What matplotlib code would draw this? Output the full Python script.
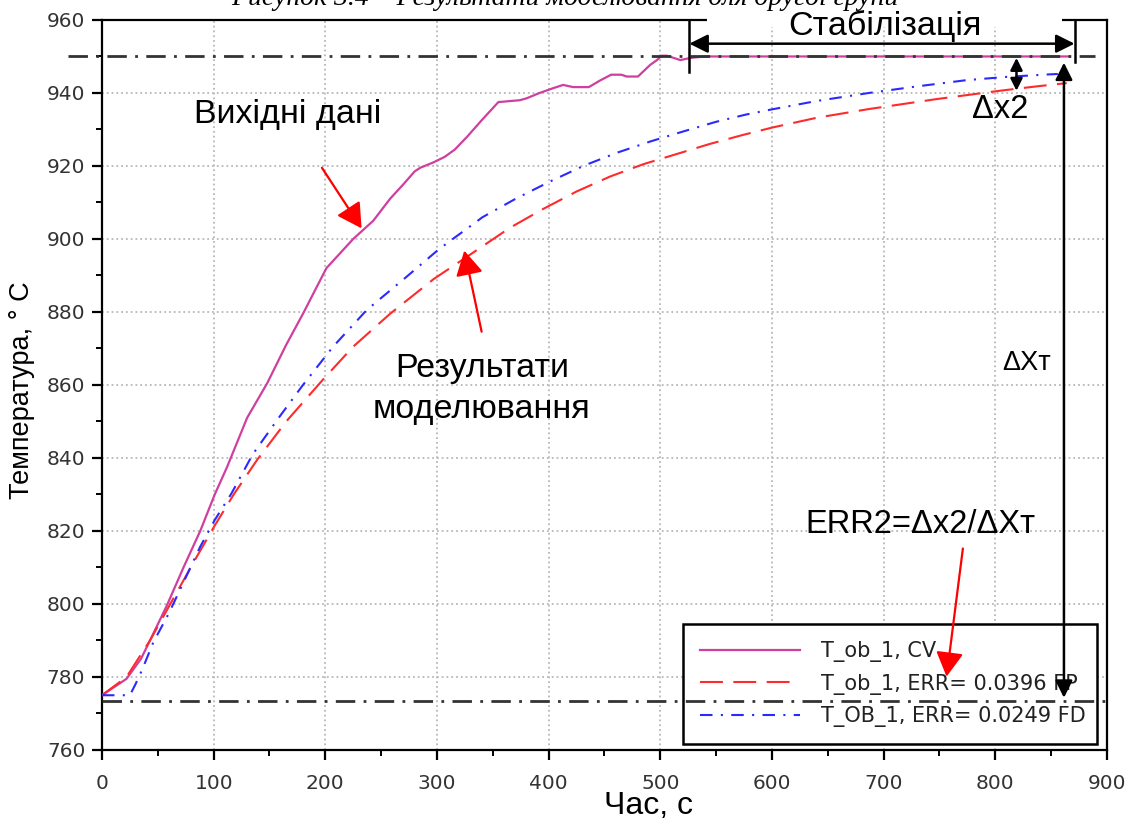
import numpy as np
import matplotlib
matplotlib.use("Agg")
import matplotlib.pyplot as plt
from matplotlib.ticker import MultipleLocator
from matplotlib.patches import Rectangle

plt.rcParams['font.family'] = ['Liberation Sans', 'DejaVu Sans']

# Experimental data (CV)
t_cv = [0, 22, 35, 43, 58, 73, 88, 101, 112, 130, 148, 165, 180, 201, 225, 243,
        258, 270, 280, 285, 297, 307, 316, 327, 340, 355, 374, 380, 392, 404, 413,
        422, 436, 446, 456, 465, 470, 480, 491, 497, 501, 506, 518, 527, 540, 600,
        700, 800, 866]
T_cv = [775, 779.5, 785, 790, 799.5, 810, 820, 830, 837.5, 851, 860.5, 871, 879.5,
        892, 900, 905, 911, 915, 918.5, 919.5, 921, 922.5, 924.5, 928, 932.5, 937.5,
        938, 938.5, 940, 941.3, 942.2, 941.6, 941.6, 943.4, 945, 945, 944.5, 944.5,
        947.7, 949, 950.2, 950.2, 949, 949.6, 950, 950, 950, 950, 950]

# Model, ERR = 0.0396 FP
t_fp = [0, 22, 43, 63, 85, 101, 118, 139, 165, 198, 225, 258, 297, 336, 365, 395,
        425, 455, 485, 515, 544, 574, 600, 640, 687, 747, 804, 837, 864]
T_fp = [775, 780, 790, 801, 813, 821.5, 830, 839.5, 850, 861.5, 870.5, 879.5, 889,
        897, 903, 908.2, 913, 917.1, 920.5, 923.3, 926, 928.5, 930.5, 933.2, 935.6,
        938.3, 940.6, 941.8, 942.7]

# Model, ERR = 0.0249 FD
t_fd = [0, 25, 30, 36, 46, 60, 88, 101, 116, 135, 159, 180, 207, 237, 273, 301, 312,
        341, 371, 401, 431, 461, 491, 520, 550, 577, 600, 640, 687, 730, 774, 810,
        843, 856]
T_fd = [775, 775, 778, 782, 789.5, 797.5, 815.7, 823, 830.3, 841, 851.3, 860, 870.5,
        880.5, 889.7, 897, 899.5, 906, 911.1, 915.7, 920, 923.6, 926.7, 929.4, 932.1,
        934.1, 935.5, 937.8, 940, 941.8, 943.5, 944.4, 945, 945.2]

T_high = 950
T_low = 773.3

fig = plt.figure(figsize=(11.38, 8.21), dpi=100)
ax = fig.add_axes([0.0896, 0.0865, 0.8831, 0.8892])

ax.plot(t_cv, T_cv, color='#cf3f9f', lw=1.6, label='T_ob_1, CV', zorder=4)
ax.plot(t_fp, T_fp, color='#ff2a2a', lw=1.5, linestyle=(0, (11, 5)),
        label='T_ob_1, ERR= 0.0396 FP', zorder=4)
ax.plot(t_fd, T_fd, color='#2a2aff', lw=1.5, linestyle=(0, (6, 4, 1, 4)),
        label='T_OB_1, ERR= 0.0249 FD', zorder=4)

# reference levels
dashdot = (0, (7, 3, 1, 3))
ax.plot([-30, 889], [T_high, T_high], color='#333333', lw=2, linestyle=dashdot,
        clip_on=False, zorder=6)
ax.plot([0, 903], [T_low, T_low], color='#333333', lw=2, linestyle=dashdot,
        clip_on=False, zorder=6)

ax.set_xlim(0, 900)
ax.set_ylim(760, 960)
ax.xaxis.set_major_locator(MultipleLocator(100))
ax.xaxis.set_minor_locator(MultipleLocator(50))
ax.yaxis.set_major_locator(MultipleLocator(20))
ax.yaxis.set_minor_locator(MultipleLocator(10))
ax.grid(True, which='major', linestyle=':', color='#b8b8b8', lw=1.3)
ax.tick_params(which='major', direction='out', length=7, width=1.6, pad=5,
               labelsize=14.5, labelcolor='#333333')
ax.tick_params(axis='x', which='major', pad=10)
ax.tick_params(which='minor', direction='out', length=4, width=1.4)
for lab in ax.get_xticklabels() + ax.get_yticklabels():
    lab.set_fontfamily('DejaVu Sans')
for s in ax.spines.values():
    s.set_linewidth(1.6)

# top spine is hidden behind the title of the stabilisation zone
ax.add_patch(Rectangle((542, 958), 318, 4, facecolor='white', edgecolor='none',
                       clip_on=False, zorder=7))
ax.text(701, 956, 'Стабілізація', ha='center', va='baseline', fontsize=24.5, zorder=8)

# stabilisation bracket
ax.plot([526, 526], [960, 945.8], color='black', lw=1.8, clip_on=False, zorder=8)
ax.plot([871, 871], [960, 948.5], color='black', lw=1.8, clip_on=False, zorder=8)
ax.annotate('', xy=(871, 953.5), xytext=(526, 953.5),
            arrowprops=dict(arrowstyle='<|-|>', color='black', lw=1.8,
                            mutation_scale=28, shrinkA=0, shrinkB=0), zorder=8)

# dx2 arrow
ax.annotate('', xy=(819, 940.6), xytext=(819, 949.6),
            arrowprops=dict(arrowstyle='<|-|>', color='black', lw=1.8,
                            mutation_scale=18, shrinkA=0, shrinkB=0), zorder=8)
ax.text(804, 933.2, 'Δx2', ha='center', va='baseline', fontsize=23.5, zorder=8)

# dXt arrow
ax.annotate('', xy=(861.5, 774.3), xytext=(861.5, 948.3),
            arrowprops=dict(arrowstyle='<|-|>', color='black', lw=1.8,
                            mutation_scale=26, shrinkA=0, shrinkB=0), zorder=8)
ax.text(828, 864, 'ΔXт', ha='center', va='baseline', fontsize=19.5, zorder=8)
ax.text(733, 819.5, 'ERR2=Δx2/ΔXт', ha='center', va='baseline', fontsize=23.5, zorder=8)

# red pointers
red_arrow = dict(arrowstyle='-|>,head_length=0.5,head_width=0.28', color='red',
                 lw=1.6, mutation_scale=30, shrinkA=0, shrinkB=0)
ax.annotate('', xy=(232.5, 902.9), xytext=(197, 919.5), arrowprops=red_arrow, zorder=8)
ax.annotate('', xy=(324.5, 896.8), xytext=(340, 874.6), arrowprops=red_arrow, zorder=8)
ax.annotate('', xy=(756.4, 780.1), xytext=(771, 815.2), arrowprops=red_arrow, zorder=8)

ax.text(166.6, 931.8, 'Вихідні дані', ha='center', va='baseline', fontsize=24.5)
ax.text(340.3, 862.2, 'Результати', ha='center', va='baseline', fontsize=24.5)
ax.text(340.3, 851, 'моделювання', ha='center', va='baseline', fontsize=24.5)

leg = ax.legend(loc='lower left', bbox_to_anchor=(0.578, 0.008, 0.412, 0.165),
                mode='expand', borderaxespad=0, fancybox=False, framealpha=1,
                edgecolor='black', handlelength=4.8, handletextpad=1.0,
                labelspacing=0.55, borderpad=0.82,
                prop={'family': 'DejaVu Sans', 'size': 15})
leg.get_frame().set_linewidth(1.8)
leg.set_zorder(5)
for txt in leg.get_texts():
    txt.set_color('#222222')

fig.text(0.0193, 0.525, 'Температура, ° C', rotation=90, ha='center', va='center',
         fontsize=19.5)
fig.text(648 / 1138, 1 - 814 / 821, 'Час, с', ha='center', va='baseline', fontsize=23)

# caption of the page, cut by the top edge
fig.text(0.4965, 1 - 5 / 821, 'Рисунок 3.4 – Результати моделювання для другої групи',
         ha='center', va='baseline', fontsize=20, style='italic',
         family=['Liberation Serif', 'DejaVu Serif'])

fig.savefig('out.png', dpi=100)
